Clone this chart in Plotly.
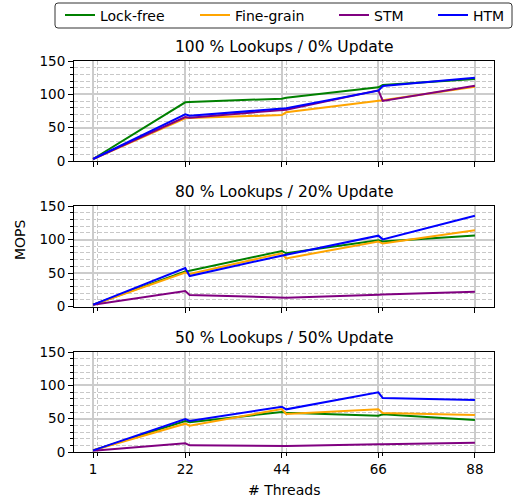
import plotly.graph_objects as go

threads = [1, 22, 23, 44, 45, 66, 67, 88]
tick_vals = [1, 22, 44, 66, 88]
minor_x = [2, 23, 45, 67]

titles = ["100 % Lookups / 0% Update", "80 % Lookups / 20% Update", "50 % Lookups / 50% Update"]
series_names = ["Lock-free", "Fine-grain", "STM", "HTM"]
colors = ["green", "orange", "purple", "blue"]

# panel 1: 100% lookups
p1_lockfree = [3, 88, 88.5, 93.5, 95, 110.5, 114, 123]
p1_finegrain = [3, 64, 64.5, 69, 73, 90, 91, 111.5]
p1_stm = [3, 66, 65, 76, 77, 106, 90, 113]
p1_htm = [3, 70, 68, 78, 79, 105.5, 112.5, 125]

# panel 2: 80% lookups
p2_lockfree = [3, 52.6, 53.6, 83, 79.5, 99, 97, 106]
p2_finegrain = [3, 50.7, 48.7, 79.5, 72, 97, 94, 114]
p2_stm = [3, 23.3, 17.4, 13.4, 13.4, 17.9, 18, 22.4]
p2_htm = [3, 57.6, 45.7, 77, 77.5, 105.8, 100.3, 135.6]

# panel 3: 50% lookups
p3_lockfree = [2.5, 46.5, 44.5, 60, 59, 54.5, 56.5, 48]
p3_finegrain = [2.5, 42.5, 39.5, 64.5, 57, 64, 58.5, 55.5]
p3_stm = [2, 13, 10, 9, 9, 11.5, 11.5, 14]
p3_htm = [2.5, 49.5, 46.5, 68, 64, 89.5, 81, 78]

panels = [
    [p1_lockfree, p1_finegrain, p1_stm, p1_htm],
    [p2_lockfree, p2_finegrain, p2_stm, p2_htm],
    [p3_lockfree, p3_finegrain, p3_stm, p3_htm],
]

W, H = 513, 501
FONT = "DejaVu Sans"
x_left, x_right = 74, 494
panel_px = [(61, 161), (206, 306.7), (352, 452)]
legend_text_px = [102, 237, 376, 475]   # where each legend label starts
legend_box = (55, 3, 512, 28)

fig = go.Figure()
layout = dict(
    width=W, height=H,
    margin=dict(l=0, r=0, t=0, b=0, autoexpand=False),
    paper_bgcolor="white", plot_bgcolor="white",
    font=dict(family=FONT, size=13.5, color="black"),
    showlegend=True,
)

# one legend per entry, to place each entry like the reference
legend_keys = ["legend", "legend2", "legend3", "legend4"]
for k, tx in zip(legend_keys, legend_text_px):
    layout[k] = dict(orientation="h", x=(tx - 42) / W, y=1 - 15.5 / H,
                     xanchor="left", yanchor="middle",
                     bgcolor="rgba(0,0,0,0)", borderwidth=0,
                     font=dict(size=14, family=FONT), itemwidth=30)

annotations = []
for i, (vals, title) in enumerate(zip(panels, titles)):
    xa = "xaxis" if i == 0 else f"xaxis{i+1}"
    ya = "yaxis" if i == 0 else f"yaxis{i+1}"
    xref = "x" if i == 0 else f"x{i+1}"
    yref = "y" if i == 0 else f"y{i+1}"
    top, bot = panel_px[i]
    layout[xa] = dict(
        domain=[x_left / W, x_right / W], anchor=yref, automargin=False,
        range=[-3.35, 92.35], tickmode="array", tickvals=tick_vals,
        showticklabels=(i == 2), ticks="outside", ticklen=5, tickwidth=1, tickcolor="black",
        showline=True, linecolor="black", linewidth=1, mirror=True,
        showgrid=True, gridcolor="#cccccc", gridwidth=1.5, zeroline=False,
        minor=dict(tickmode="array", tickvals=minor_x, ticks="outside", ticklen=3, tickcolor="black",
                   showgrid=True, gridcolor="#c8c8c8", griddash="4px,2px", gridwidth=1),
        tickfont=dict(size=13.5),
    )
    layout[ya] = dict(
        domain=[1 - bot / H, 1 - top / H], anchor=xref, automargin=False,
        range=[0, 150], tickmode="array", tickvals=[0, 50, 100, 150],
        ticks="outside", ticklen=5, tickwidth=1, tickcolor="black",
        showline=True, linecolor="black", linewidth=1, mirror=True,
        showgrid=True, gridcolor="#cccccc", gridwidth=1.5, zeroline=False,
        minor=dict(dtick=10, tick0=0, ticks="outside", ticklen=3, tickcolor="black",
                   showgrid=True, gridcolor="#c8c8c8", griddash="4px,2px", gridwidth=1),
        tickfont=dict(size=13.5),
    )
    for j, (name, col) in enumerate(zip(series_names, colors)):
        fig.add_trace(go.Scatter(
            x=threads, y=vals[j], mode="lines", name=name,
            line=dict(color=col, width=2), showlegend=(i == 0),
            legend=legend_keys[j], xaxis=xref, yaxis=yref,
        ))
    annotations.append(dict(text=title, x=(x_left + x_right) / 2 / W, y=1 - (top - 14) / H,
                            xref="paper", yref="paper", showarrow=False,
                            font=dict(size=15.5), xanchor="center", yanchor="middle"))

annotations.append(dict(text="MOPS", x=20 / W, y=1 - 240 / H, xref="paper", yref="paper",
                        showarrow=False, textangle=-90, font=dict(size=14),
                        xanchor="center", yanchor="middle"))
annotations.append(dict(text="# Threads", x=(x_left + x_right) / 2 / W, y=1 - 490 / H,
                        xref="paper", yref="paper", showarrow=False, font=dict(size=14),
                        xanchor="center", yanchor="middle"))
layout["annotations"] = annotations

# legend frame with rounded corners
x0, y0, x1, y1 = legend_box
r = 3
X0, X1 = x0 / W, x1 / W
Y0, Y1 = 1 - y1 / H, 1 - y0 / H
rx, ry = r / W, r / H
path = (f"M {X0+rx},{Y1} L {X1-rx},{Y1} Q {X1},{Y1} {X1},{Y1-ry} "
        f"L {X1},{Y0+ry} Q {X1},{Y0} {X1-rx},{Y0} L {X0+rx},{Y0} Q {X0},{Y0} {X0},{Y0+ry} "
        f"L {X0},{Y1-ry} Q {X0},{Y1} {X0+rx},{Y1} Z")
layout["shapes"] = [dict(type="path", path=path, xref="paper", yref="paper",
                         line=dict(color="#333333", width=1), fillcolor="white", layer="above")]
fig.update_layout(**layout)
fig.write_html("out.html")
